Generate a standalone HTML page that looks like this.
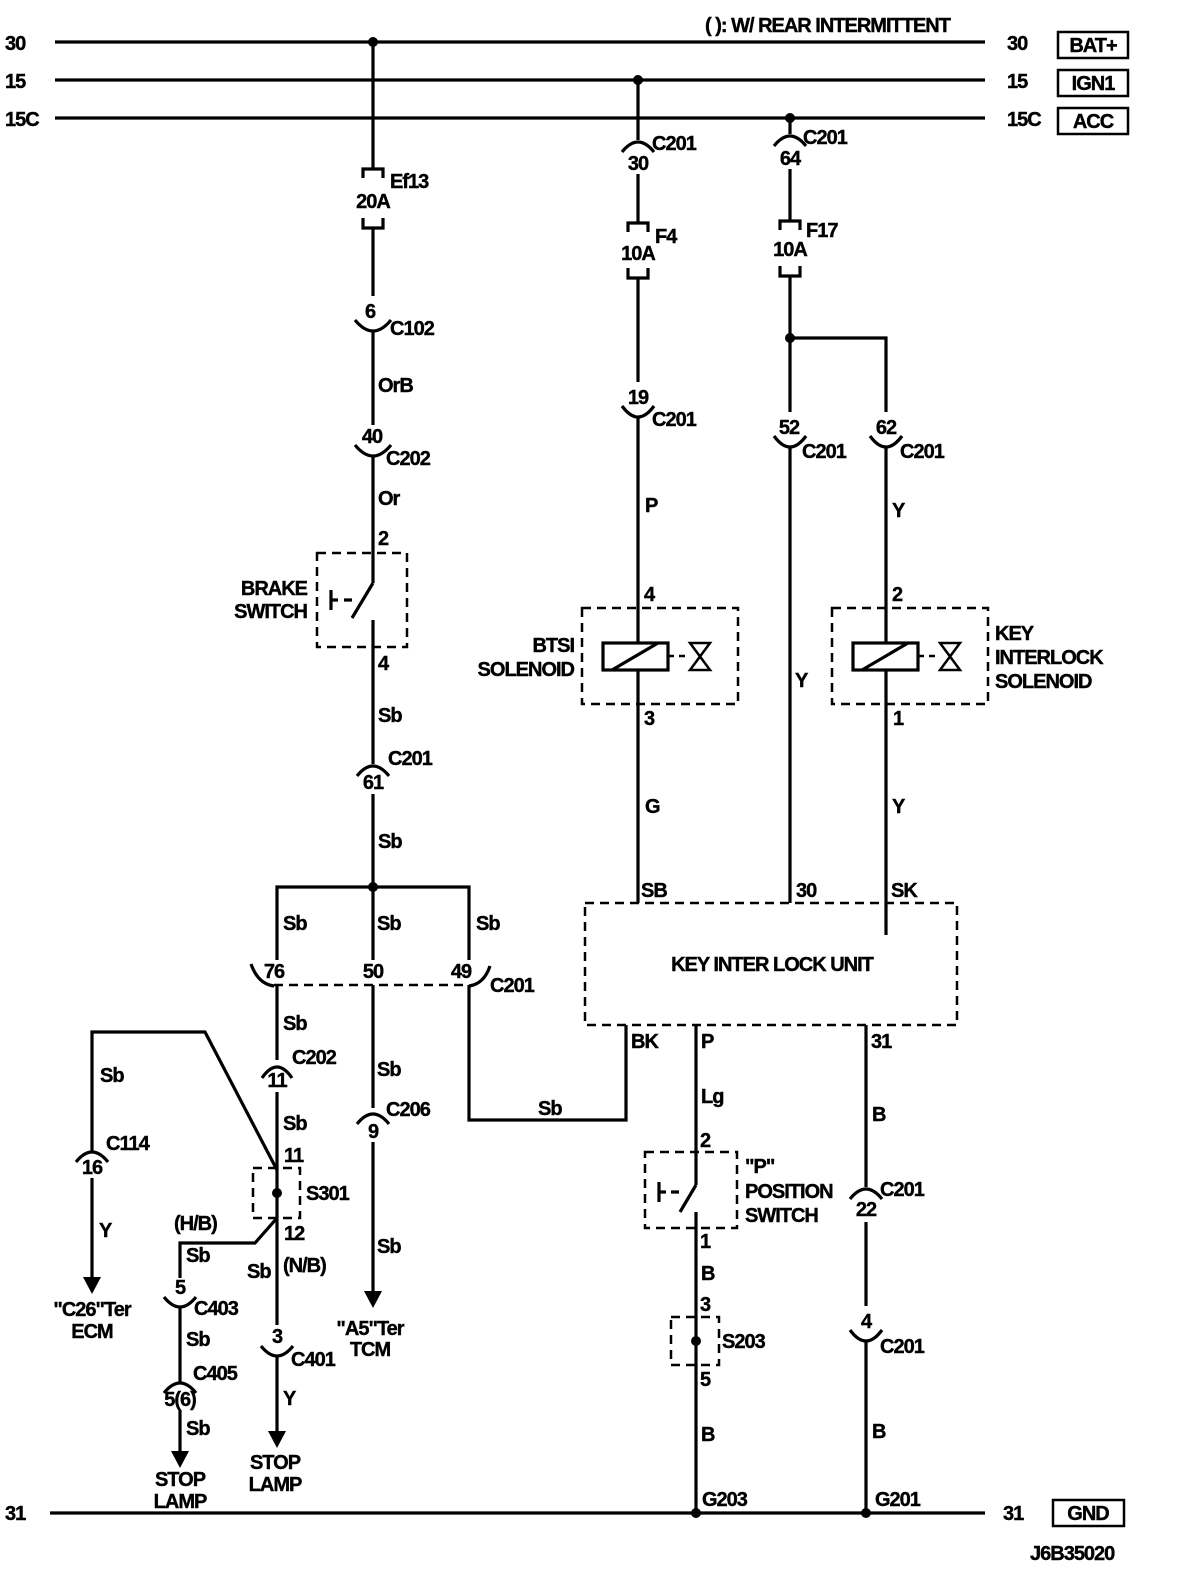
<!DOCTYPE html>
<html><head><meta charset="utf-8"><style>
html,body{margin:0;padding:0;background:#fff}
svg{display:block}
text{font-family:"Liberation Sans",sans-serif;font-weight:bold;font-size:20px;fill:#000;stroke:#000;stroke-width:0.4;letter-spacing:-1px}
.w{stroke:#000;stroke-width:3.2;fill:none}
.d{stroke:#000;stroke-width:2.5;fill:none;stroke-dasharray:9 6}
.a{stroke:#000;stroke-width:2.5;fill:none}
</style></head><body>
<svg width="1184" height="1582" viewBox="0 0 1184 1582" xmlns="http://www.w3.org/2000/svg">
<text x="705" y="32">( ): W/ REAR INTERMITTENT</text>
<line class="w" x1="55" y1="42" x2="985" y2="42"/>
<line class="w" x1="55" y1="80" x2="985" y2="80"/>
<line class="w" x1="55" y1="118" x2="985" y2="118"/>
<line class="w" x1="50" y1="1513" x2="985" y2="1513"/>
<text x="5" y="50">30</text><text x="5" y="88">15</text><text x="5" y="126">15C</text><text x="5" y="1520">31</text>
<text x="1007" y="50">30</text><text x="1007" y="88">15</text><text x="1007" y="126">15C</text><text x="1003" y="1520">31</text>
<rect class="a" x="1058" y="32" width="70" height="26"/><text x="1093" y="52" text-anchor="middle">BAT+</text>
<rect class="a" x="1058" y="70" width="70" height="26"/><text x="1093" y="90" text-anchor="middle">IGN1</text>
<rect class="a" x="1058" y="108" width="70" height="26"/><text x="1093" y="128" text-anchor="middle">ACC</text>
<rect class="a" x="1053" y="1500" width="71" height="26"/><text x="1088" y="1520" text-anchor="middle">GND</text>
<text x="1030" y="1560">J6B35020</text>

<circle cx="373" cy="42" r="5"/>
<line class="w" x1="373" y1="42" x2="373" y2="170"/>
<path class="w" d="M363,178 V169 H383 V178"/><text x="373" y="208" text-anchor="middle">20A</text><text x="390" y="188">Ef13</text>
<path class="w" d="M363,218 V228 H383 V218"/>
<line class="w" x1="373" y1="228" x2="373" y2="296"/>
<text x="370" y="318" text-anchor="middle">6</text><path class="w" d="M355,320 Q373,342 391,320"/><text x="390" y="335">C102</text>
<line class="w" x1="373" y1="331" x2="373" y2="425"/>
<text x="378" y="392">OrB</text>
<text x="372" y="443" text-anchor="middle">40</text><path class="w" d="M355,445 Q373,467 391,445"/><text x="386" y="465">C202</text>
<line class="w" x1="373" y1="456" x2="373" y2="583"/>
<text x="378" y="505">Or</text><text x="378" y="545">2</text>
<rect class="d" x="317" y="553" width="90" height="94"/>
<path class="w" d="M373,583 L352,618"/>
<path class="w" d="M331,590 V610 M331,600 H338 M344,600 H352"/>
<text x="307" y="595" text-anchor="end">BRAKE</text><text x="307" y="618" text-anchor="end">SWITCH</text>
<line class="w" x1="373" y1="620" x2="373" y2="764"/>
<text x="378" y="670">4</text><text x="378" y="722">Sb</text>
<path class="w" d="M357,776 Q373,756 389,776"/><text x="388" y="765">C201</text><text x="373" y="789" text-anchor="middle">61</text>
<line class="w" x1="373" y1="794" x2="373" y2="887"/>
<text x="378" y="848">Sb</text>
<circle cx="373" cy="887" r="5"/>
<path class="w" d="M277,960 V887 H469 V960"/>
<line class="w" x1="373" y1="887" x2="373" y2="960"/>
<text x="283" y="930">Sb</text><text x="377" y="930">Sb</text><text x="476" y="930">Sb</text>
<text x="274" y="978" text-anchor="middle">76</text><text x="373" y="978" text-anchor="middle">50</text><text x="461" y="978" text-anchor="middle">49</text>
<path class="w" d="M251,964 Q258,984 274,986"/>
<path class="w" d="M469,986 Q484,984 490,966"/>
<text x="490" y="992">C201</text>
<line class="d" x1="274" y1="985" x2="469" y2="985"/>
<line class="w" x1="277" y1="985" x2="277" y2="1060"/>
<text x="283" y="1030">Sb</text>
<path class="w" d="M262,1078 Q277,1056 292,1078"/><text x="292" y="1064">C202</text><text x="277" y="1087" text-anchor="middle">11</text>
<line class="w" x1="277" y1="1092" x2="277" y2="1325"/>
<text x="283" y="1130">Sb</text><text x="284" y="1162">11</text>
<rect class="d" x="253" y="1168" width="47" height="50"/>
<circle cx="277" cy="1193" r="5"/>
<text x="306" y="1200">S301</text>
<path class="w" d="M277,1170 L205,1032 H92 V1152"/>
<text x="100" y="1082">Sb</text>
<path class="w" d="M76,1162 Q92,1142 108,1162"/><text x="106" y="1150">C114</text><text x="92" y="1174" text-anchor="middle">16</text>
<line class="w" x1="92" y1="1178" x2="92" y2="1278"/>
<text x="99" y="1237">Y</text>
<path d="M83,1277 L101,1277 L92,1294 Z"/>
<text x="92" y="1316" text-anchor="middle">"C26"Ter</text><text x="92" y="1338" text-anchor="middle">ECM</text>
<path class="w" d="M277,1218 L255,1243 H180 V1278"/>
<text x="174" y="1230">(H/B)</text><text x="186" y="1262">Sb</text><text x="284" y="1240">12</text>
<text x="247" y="1278">Sb</text><text x="283" y="1272">(N/B)</text>
<text x="180" y="1294" text-anchor="middle">5</text><path class="w" d="M164,1297 Q180,1317 196,1297"/><text x="194" y="1315">C403</text>
<line class="w" x1="180" y1="1307" x2="180" y2="1383"/>
<text x="186" y="1346">Sb</text>
<path class="w" d="M164,1393 Q180,1373 196,1393"/><text x="193" y="1380">C405</text><text x="180" y="1406" text-anchor="middle">5(6)</text>
<line class="w" x1="180" y1="1410" x2="180" y2="1452"/>
<text x="186" y="1435">Sb</text>
<path d="M171,1451 L189,1451 L180,1468 Z"/>
<text x="180" y="1486" text-anchor="middle">STOP</text><text x="180" y="1508" text-anchor="middle">LAMP</text>
<text x="277" y="1343" text-anchor="middle">3</text><path class="w" d="M261,1346 Q277,1366 293,1346"/><text x="291" y="1366">C401</text>
<line class="w" x1="277" y1="1356" x2="277" y2="1432"/>
<text x="283" y="1405">Y</text>
<path d="M268,1431 L286,1431 L277,1448 Z"/>
<text x="275" y="1469" text-anchor="middle">STOP</text><text x="275" y="1491" text-anchor="middle">LAMP</text>
<line class="w" x1="373" y1="985" x2="373" y2="1108"/>
<text x="377" y="1076">Sb</text>
<path class="w" d="M357,1124 Q373,1104 389,1124"/><text x="386" y="1116">C206</text><text x="373" y="1138" text-anchor="middle">9</text>
<line class="w" x1="373" y1="1142" x2="373" y2="1292"/>
<text x="377" y="1253">Sb</text>
<path d="M364,1291 L382,1291 L373,1308 Z"/>
<text x="370" y="1335" text-anchor="middle">"A5"Ter</text><text x="370" y="1356" text-anchor="middle">TCM</text>
<path class="w" d="M469,985 V1120 H626 V1025"/>
<text x="538" y="1115">Sb</text>

<circle cx="638" cy="80" r="5"/>
<line class="w" x1="638" y1="80" x2="638" y2="140"/>
<path class="w" d="M622,152 Q638,132 654,152"/><text x="652" y="150">C201</text><text x="638" y="170" text-anchor="middle">30</text>
<line class="w" x1="638" y1="174" x2="638" y2="224"/>
<path class="w" d="M628,232 V223 H648 V232"/><text x="638" y="260" text-anchor="middle">10A</text><text x="655" y="243">F4</text>
<path class="w" d="M628,268 V278 H648 V268"/>
<line class="w" x1="638" y1="278" x2="638" y2="382"/>
<text x="638" y="404" text-anchor="middle">19</text><path class="w" d="M622,406 Q638,428 654,406"/><text x="652" y="426">C201</text>
<line class="w" x1="638" y1="417" x2="638" y2="643"/>
<text x="645" y="512">P</text><text x="644" y="601">4</text>
<rect class="d" x="582" y="608" width="156" height="96"/>
<rect class="w" x="603" y="643" width="65" height="27"/>
<line class="w" x1="612" y1="670" x2="658" y2="643"/>
<line x1="668" y1="656" x2="690" y2="656" stroke="#000" stroke-width="2.5" stroke-dasharray="6 5"/>
<path class="a" d="M690,643 H710 L690,670 H710 Z"/>
<text x="574" y="652" text-anchor="end">BTSI</text><text x="574" y="676" text-anchor="end">SOLENOID</text>
<line class="w" x1="638" y1="670" x2="638" y2="903"/>
<text x="644" y="725">3</text><text x="645" y="813">G</text><text x="641" y="897">SB</text>

<circle cx="790" cy="118" r="5"/>
<line class="w" x1="790" y1="118" x2="790" y2="134"/>
<path class="w" d="M774,146 Q790,126 806,146"/><text x="803" y="144">C201</text><text x="790" y="165" text-anchor="middle">64</text>
<line class="w" x1="790" y1="169" x2="790" y2="222"/>
<path class="w" d="M780,230 V221 H800 V230"/><text x="790" y="256" text-anchor="middle">10A</text><text x="806" y="237">F17</text>
<path class="w" d="M780,266 V276 H800 V266"/>
<line class="w" x1="790" y1="276" x2="790" y2="412"/>
<circle cx="790" cy="338" r="5"/>
<path class="w" d="M790,338 H886 V412"/>
<text x="789" y="434" text-anchor="middle">52</text><path class="w" d="M774,436 Q790,458 806,436"/><text x="802" y="458">C201</text>
<line class="w" x1="790" y1="447" x2="790" y2="903"/>
<text x="795" y="687">Y</text><text x="796" y="897">30</text>
<text x="886" y="434" text-anchor="middle">62</text><path class="w" d="M870,436 Q886,458 902,436"/><text x="900" y="458">C201</text>
<line class="w" x1="886" y1="447" x2="886" y2="643"/>
<text x="892" y="517">Y</text><text x="892" y="601">2</text>
<rect class="d" x="832" y="608" width="156" height="96"/>
<rect class="w" x="853" y="643" width="65" height="27"/>
<line class="w" x1="862" y1="670" x2="908" y2="643"/>
<line x1="918" y1="656" x2="940" y2="656" stroke="#000" stroke-width="2.5" stroke-dasharray="6 5"/>
<path class="a" d="M940,643 H960 L940,670 H960 Z"/>
<text x="995" y="640">KEY</text><text x="995" y="664">INTERLOCK</text><text x="995" y="688">SOLENOID</text>
<line class="w" x1="886" y1="670" x2="886" y2="935"/>
<text x="893" y="725">1</text><text x="892" y="813">Y</text><text x="891" y="897">SK</text>

<rect class="d" x="585" y="903" width="372" height="122"/>
<text x="772" y="971" text-anchor="middle">KEY INTER LOCK UNIT</text>
<text x="631" y="1048">BK</text><text x="701" y="1048">P</text><text x="871" y="1048">31</text>

<line class="w" x1="696" y1="1025" x2="696" y2="1185"/>
<text x="701" y="1103">Lg</text><text x="700" y="1147">2</text>
<rect class="d" x="645" y="1152" width="92" height="76"/>
<path class="w" d="M696,1185 L680,1212"/>
<path class="w" d="M659,1182 V1202 M659,1192 H666 M671,1192 H679"/>
<text x="745" y="1173">"P"</text><text x="745" y="1198">POSITION</text><text x="745" y="1222">SWITCH</text>
<line class="w" x1="696" y1="1212" x2="696" y2="1513"/>
<text x="700" y="1248">1</text><text x="701" y="1280">B</text><text x="700" y="1311">3</text>
<rect class="d" x="671" y="1317" width="48" height="48"/>
<circle cx="696" cy="1341" r="5"/>
<text x="722" y="1348">S203</text><text x="700" y="1386">5</text><text x="701" y="1441">B</text>
<text x="702" y="1506">G203</text>
<circle cx="696" cy="1513" r="5"/>
<line class="w" x1="866" y1="1025" x2="866" y2="1187"/>
<text x="872" y="1121">B</text>
<path class="w" d="M850,1199 Q866,1179 882,1199"/><text x="880" y="1196">C201</text><text x="866" y="1216" text-anchor="middle">22</text>
<line class="w" x1="866" y1="1222" x2="866" y2="1306"/>
<text x="866" y="1328" text-anchor="middle">4</text><path class="w" d="M850,1330 Q866,1352 882,1330"/><text x="880" y="1353">C201</text>
<line class="w" x1="866" y1="1341" x2="866" y2="1513"/>
<text x="872" y="1438">B</text><text x="875" y="1506">G201</text>
<circle cx="866" cy="1513" r="5"/>
</svg>
</body></html>
